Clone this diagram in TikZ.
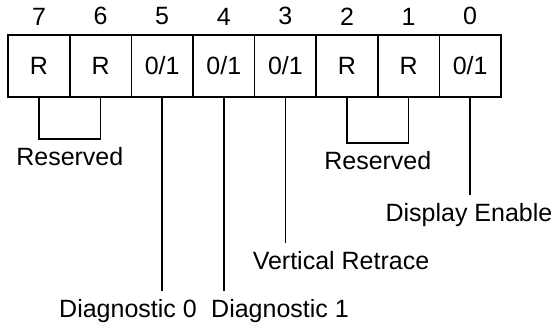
\documentclass[tikz,border=0pt]{standalone}
\usepackage{fontspec}
\setmainfont{Liberation Sans}
\usetikzlibrary{positioning}
\tikzstyle{cell}=[rectangle, draw, minimum width=30.8pt, minimum height=31pt, outer sep=0pt, inner sep=0pt]
\tikzstyle{bitno}=[inner sep=0pt]
\tikzstyle{note}=[inner sep=4pt]

\begin{document}
\begin{tikzpicture}[x=0.5pt,y=-0.5pt,line width=0.75pt,font=\fontsize{12.5}{15}\selectfont]
\useasboundingbox (0,0) rectangle (554,325);

\node[cell] (b7) at (39,66) {R};
\node[cell] (b6) [right=0pt of b7] {R};
\node[cell] (b5) [right=0pt of b6] {0/1};
\node[cell] (b4) [right=0pt of b5] {0/1};
\node[cell] (b3) [right=0pt of b4] {0/1};
\node[cell] (b2) [right=0pt of b3] {R};
\node[cell] (b1) [right=0pt of b2] {R};
\node[cell] (b0) [right=0pt of b1] {0/1};

\node[bitno] (n7) [above=4.5pt of b7] {7};
\node[bitno] (n6) [above=4.5pt of b6] {6};
\node[bitno] (n5) [above=4.5pt of b5] {5};
\node[bitno] (n4) [above=4.5pt of b4] {4};
\node[bitno] (n3) [above=4.5pt of b3] {3};
\node[bitno] (n2) [above=4.5pt of b2] {2};
\node[bitno] (n1) [above=4.5pt of b1] {1};
\node[bitno] (n0) [above=4.5pt of b0] {0};

\node[note, anchor=base] (de) at (469,222) {Display Enable};
\node[note, anchor=base] (vr) at (341,270) {Vertical Retrace};
\node[note, anchor=base] (d0) at (128,318) {Diagnostic 0};
\node[note, anchor=base] (d1) at (280,318) {Diagnostic 1};

\draw (b7.south) -- ++(0,42) -| coordinate[pos=0.25] (r7) (b6.south); %% bits 7,6
\draw (b2.south) -- ++(0,46) -| coordinate[pos=0.25] (r2) (b1.south); %% bits 2,1
\node[note] (res1) [below=0pt of r7] {Reserved};
\node[note] (res2) [below=0pt of r2] {Reserved};

\draw (b5) -- (b5 |- d0.north);
\draw (b4) -- (b4 |- d1.north);
\draw (b3) -- (b3 |- vr.north);
\draw (b0) -- (b0 |- de.north);

\end{tikzpicture}
\end{document}
